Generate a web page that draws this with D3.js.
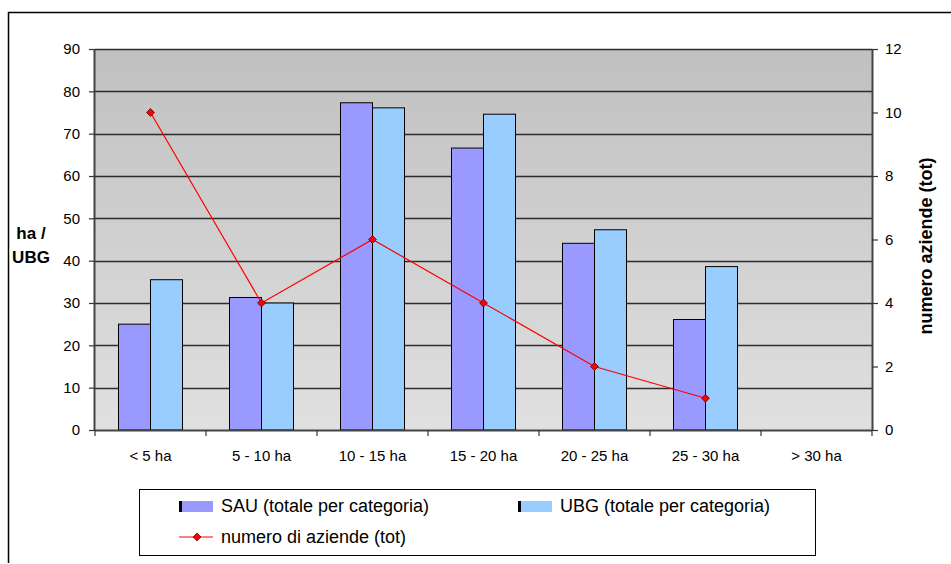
<!DOCTYPE html>
<html><head><meta charset="utf-8">
<script src="https://cdn.jsdelivr.net/npm/d3@7"></script>
<style>body{margin:0;background:#fff}svg{display:block;font-family:"Liberation Sans",Arial,sans-serif}</style>
</head><body>
<svg id="c" width="951" height="564"></svg>
<script>
const categories = ["< 5 ha","5 - 10 ha","10 - 15 ha","15 - 20 ha","20 - 25 ha","25 - 30 ha","> 30 ha"];
const sauValues = [25, 31.3, 77.3, 66.6, 44.1, 26.1, 0];
const ubgValues = [35.5, 30, 76.1, 74.6, 47.3, 38.6, 0];
const aziendeValues = [10, 4, 6, 4, 2, 1, null];
const leftTicks = [0,10,20,30,40,50,60,70,80,90];
const rightTicks = [0,2,4,6,8,10,12];
const seriesNames = ["SAU (totale per categoria)","UBG (totale per categoria)","numero di aziende (tot)"];
const rightTitle = "numero aziende (tot)";
const colors = {sau:"#9999ff", ubg:"#99ccff", line:"#ff0000"};

const FF = "Liberation Sans, Arial, sans-serif";
const svg = d3.select("#c");
const L=95, R=872, T=49, B=430;

// outer frame
svg.append("path").attr("d","M8.5,563 V12.5 H951").attr("fill","none").attr("stroke","#000").attr("stroke-width",1.5);

const defs = svg.append("defs");
const g = defs.append("linearGradient").attr("id","bg").attr("x1",0).attr("y1",0).attr("x2",0).attr("y2",1);
g.append("stop").attr("offset",0).attr("stop-color","#c0c0c0");
g.append("stop").attr("offset",1).attr("stop-color","#e0e0e0");
svg.append("rect").attr("x",L).attr("y",T).attr("width",R-L).attr("height",B-T).attr("fill","url(#bg)");

const x = d3.scaleBand().domain(categories).range([L,R]);
const y = d3.scaleLinear().domain([0,90]).range([B,T]);
const y2 = d3.scaleLinear().domain([0,12]).range([B,T]);

// grid
svg.append("g").selectAll("line").data(leftTicks.filter(d=>d>0)).join("line")
  .attr("x1",L).attr("x2",R).attr("y1",d=>Math.round(y(d))+0.5).attr("y2",d=>Math.round(y(d))+0.5)
  .attr("stroke","#111").attr("stroke-opacity",0.85).attr("stroke-width",1.3);

const bw = 32;
const bars = svg.append("g");
bars.selectAll("rect.sau").data(categories).join("rect").attr("class","sau")
  .attr("x",d=>x(d)+x.bandwidth()/2-bw).attr("width",bw)
  .attr("y",(d,i)=>y(sauValues[i])).attr("height",(d,i)=>y(0)-y(sauValues[i]))
  .attr("fill",colors.sau).attr("stroke","#000").attr("stroke-width",1)
  .style("display",(d,i)=>sauValues[i]>0?null:"none");
bars.selectAll("rect.ubg").data(categories).join("rect").attr("class","ubg")
  .attr("x",d=>x(d)+x.bandwidth()/2).attr("width",bw)
  .attr("y",(d,i)=>y(ubgValues[i])).attr("height",(d,i)=>y(0)-y(ubgValues[i]))
  .attr("fill",colors.ubg).attr("stroke","#000").attr("stroke-width",1)
  .style("display",(d,i)=>ubgValues[i]>0?null:"none");

// line
const pts = categories.map((c,i)=>({c,v:aziendeValues[i]})).filter(d=>d.v!==null);
svg.append("path").datum(pts)
  .attr("d",d3.line().x(d=>x(d.c)+x.bandwidth()/2).y(d=>y2(d.v)))
  .attr("fill","none").attr("stroke",colors.line).attr("stroke-width",1.2);
svg.append("g").selectAll("path").data(pts).join("path")
  .attr("d",d3.symbol(d3.symbolDiamond2,40))
  .attr("transform",d=>`translate(${x(d.c)+x.bandwidth()/2},${y2(d.v)})`)
  .attr("fill","#ff0000").attr("stroke","#400").attr("stroke-width",0.7);

// axes
const gl = svg.append("g").attr("transform",`translate(${L},0)`)
  .call(d3.axisLeft(y).tickValues(leftTicks).tickSize(6).tickPadding(9));
const gr = svg.append("g").attr("transform",`translate(${R},0)`)
  .call(d3.axisRight(y2).tickValues(rightTicks).tickSize(6).tickPadding(7));
const gb = svg.append("g").attr("transform",`translate(0,${B})`)
  .call(d3.axisBottom(x).tickSize(0).tickPadding(20));
// category separator ticks
svg.append("g").selectAll("line").data(d3.range(categories.length+1)).join("line")
  .attr("x1",i=>L+i*x.bandwidth()).attr("x2",i=>L+i*x.bandwidth())
  .attr("y1",B).attr("y2",B+6).attr("stroke","#333").attr("stroke-width",1.2);
[gl,gr,gb].forEach(a=>{
  a.selectAll("text").attr("font-size",15).attr("fill","#000").attr("font-family",FF);
  a.selectAll(".domain").attr("stroke","#444").attr("stroke-width",2);
  a.selectAll(".tick line").attr("stroke","#333").attr("stroke-width",1.2);
});
gl.select(".domain").attr("d",`M-0.5,${T}V${B}`);
gr.select(".domain").attr("d",`M0.5,${T}V${B+1}`);
gb.select(".domain").attr("d",`M${L},0.5H${R}`);

// axis titles
const lt = svg.append("text").attr("font-weight","bold").attr("font-size",17).attr("text-anchor","middle").attr("font-family",FF);
lt.append("tspan").attr("x",31).attr("y",239).text("ha /");
lt.append("tspan").attr("x",31).attr("y",263).text("UBG");
svg.append("text").attr("transform","translate(932,246) rotate(-90)").attr("text-anchor","middle")
  .attr("font-weight","bold").attr("font-size",18).attr("font-family",FF).text(rightTitle);

// legend
svg.append("rect").attr("x",139.5).attr("y",489.5).attr("width",676).attr("height",66)
  .attr("fill","#fff").attr("stroke","#000").attr("stroke-width",1);
const leg = [{x:179,y:501,c:colors.sau,t:seriesNames[0]},{x:518,y:501,c:colors.ubg,t:seriesNames[1]}];
leg.forEach(d=>{
  svg.append("rect").attr("x",d.x).attr("y",d.y).attr("width",34).attr("height",11).attr("fill",d.c);
  svg.append("rect").attr("x",d.x).attr("y",d.y).attr("width",3).attr("height",11).attr("fill","#000");
  svg.append("text").attr("x",d.x+42).attr("y",d.y+11).attr("font-size",18).attr("font-family",FF).text(d.t);
});
svg.append("line").attr("x1",179).attr("x2",213).attr("y1",537).attr("y2",537).attr("stroke",colors.line).attr("stroke-width",1.2);
svg.append("path").attr("d",d3.symbol(d3.symbolDiamond2,40)).attr("transform","translate(197,537)").attr("fill","#f00").attr("stroke","#400").attr("stroke-width",0.7);
svg.append("text").attr("x",221).attr("y",543).attr("font-size",18).attr("font-family",FF).text(seriesNames[2]);
</script>
</body></html>
